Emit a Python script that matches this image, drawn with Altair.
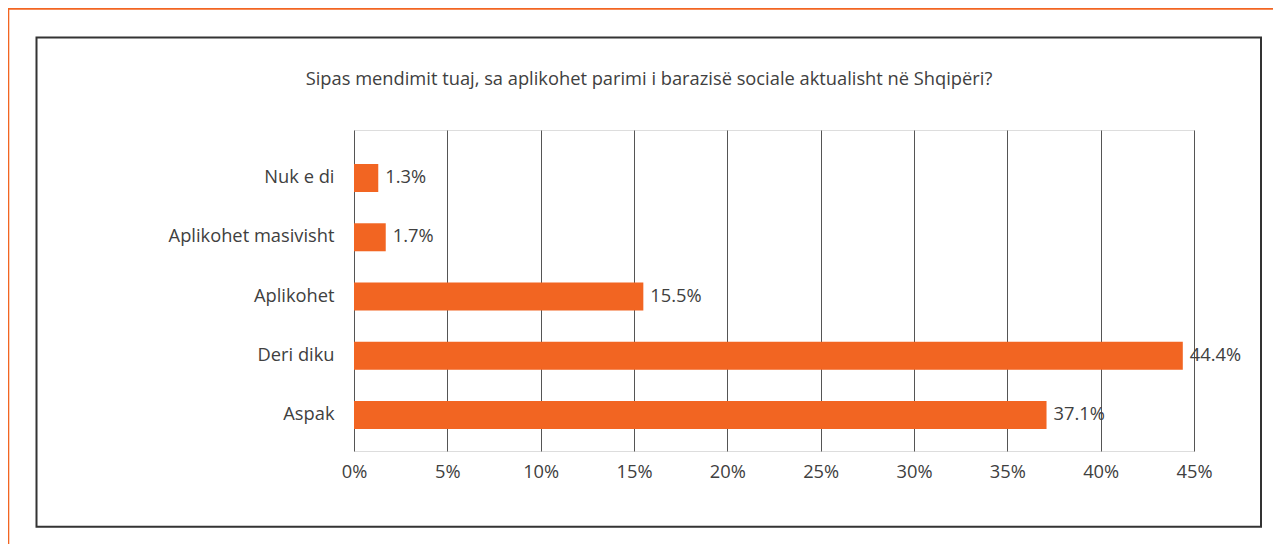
import altair as alt
import pandas as pd

categories = ["Nuk e di", "Aplikohet masivisht", "Aplikohet", "Deri diku", "Aspak"]
values = [1.3, 1.7, 15.5, 44.4, 37.1]
x_ticks = [0, 5, 10, 15, 20, 25, 30, 35, 40, 45]
title_text = "Sipas mendimit tuaj, sa aplikohet parimi i barazisë sociale aktualisht në Shqipëri?"

ORANGE = "#F26522"
TEXT = "#404040"
FONT = "Open Sans"
FS = 18.3

df = pd.DataFrame({"cat": categories, "val": values})
df["label"] = [f"{v:.1f}%" for v in values]

one = alt.Data(values=[{"k": 1}])

y_enc = alt.Y("cat:N", sort=categories, title=None,
              scale=alt.Scale(paddingInner=0, paddingOuter=0.209, align=0.743),
              axis=alt.Axis(domain=False, ticks=False, grid=False, labelPadding=20,
                            labelFontSize=FS, labelColor=TEXT, labelFont=FONT))
x_enc = alt.X("val:Q", title=None,
              scale=alt.Scale(domain=[0, 45], nice=False),
              axis=alt.Axis(values=x_ticks, labelExpr="datum.value + '%'",
                            domain=False, ticks=False, grid=True, labelFlush=False,
                            gridColor="#555555", gridWidth=1,
                            labelPadding=12, labelFontSize=FS, labelColor=TEXT,
                            labelFont=FONT))

frame = alt.Chart(one).mark_rect(fill=None, stroke="#333333", strokeWidth=2).encode(
    x=alt.value(-317.5), x2=alt.value(907), y=alt.value(-92.5), y2=alt.value(396.7))
top_line = alt.Chart(one).mark_rule(color=ORANGE, strokeWidth=2).encode(
    x=alt.value(-346), x2=alt.value(930), y=alt.value(-121.3))
left_line = alt.Chart(one).mark_rule(color=ORANGE, strokeWidth=2).encode(
    x=alt.value(-345.7), y=alt.value(-122), y2=alt.value(420))
title = alt.Chart(one).mark_text(fontSize=FS, font=FONT, color=TEXT, align="center",
                                 baseline="middle").encode(
    x=alt.value(295), y=alt.value(-50), text=alt.value(title_text))

bars = alt.Chart(df).mark_bar(color=ORANGE, size=28).encode(y=y_enc, x=x_enc)
labels = alt.Chart(df).mark_text(align="left", baseline="middle", dx=7, fontSize=FS,
                                 font=FONT, color=TEXT).encode(
    y=alt.Y("cat:N", sort=categories), x="val:Q", text="label:N")

chart = alt.layer(frame, top_line, left_line, title, bars, labels).properties(
    width=840, height=321,
    autosize=alt.AutoSizeParams(type="none"),
    padding={"left": 346, "top": 122, "right": 79, "bottom": 93},
).configure_view(stroke=None).configure(background="white")

chart.save("out.html", embed_options={"renderer": "svg", "actions": False})
